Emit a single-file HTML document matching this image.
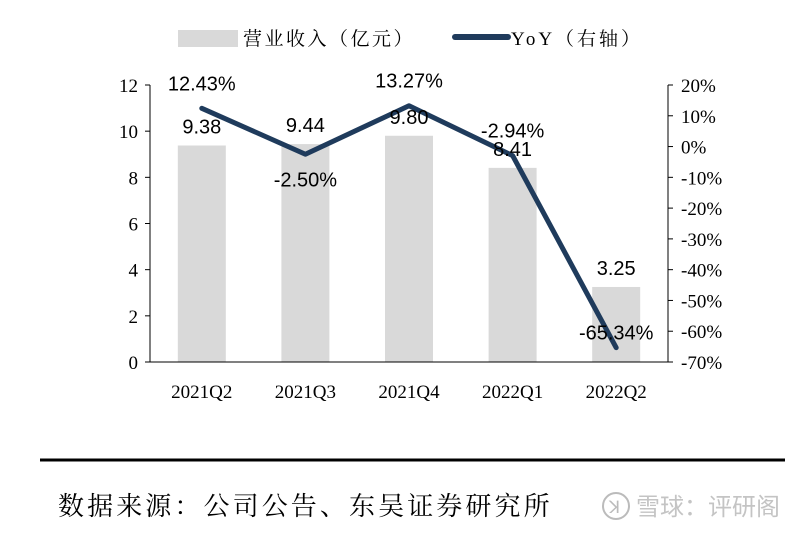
<!DOCTYPE html>
<html><head><meta charset="utf-8"><style>
html,body{margin:0;padding:0;background:#fff;width:800px;height:533px;overflow:hidden}
svg{display:block}
</style></head><body>
<svg id="chart" width="800" height="533" xmlns="http://www.w3.org/2000/svg">
<g>
<rect x="178" y="30" width="60" height="17" fill="#d9d9d9"/>
<text x="243" y="45" font-family="'Liberation Serif','Noto Serif CJK SC',serif" font-size="19" letter-spacing="2.5" fill="#000">营业收入（亿元）</text>
<line x1="455" y1="37" x2="508" y2="37" stroke="#1f3b5c" stroke-width="6" stroke-linecap="round"/>
<text x="511" y="45" font-family="'Liberation Serif','Noto Serif CJK SC',serif" font-size="19" letter-spacing="3" fill="#000">YoY（右轴）</text>
</g>
<g id="plot"></g>
<line x1="40" y1="460" x2="785" y2="460" stroke="#000" stroke-width="3"/>
<text x="58" y="515" font-family="'Liberation Serif','Noto Serif CJK SC',serif" font-size="26" letter-spacing="3.1" fill="#000">数据来源：公司公告、东吴证券研究所</text>
<g>
<circle cx="616" cy="506" r="13" fill="none" stroke="#bbb" stroke-width="2"/>
<text x="609" y="513" font-family="'Liberation Sans',sans-serif" font-size="17" fill="#bbb">ꓘ</text>
<text x="636" y="515" font-family="'Liberation Sans','Noto Sans CJK SC',sans-serif" font-size="24" fill="#c4c4c4">雪球：评研阁</text>
</g>
</svg>
<script>
const categories=["2021Q2","2021Q3","2021Q4","2022Q1","2022Q2"];
const revenue=[9.38,9.44,9.80,8.41,3.25];
const yoy=[12.43,-2.50,13.27,-2.94,-65.34];
const leftTicks=[0,2,4,6,8,10,12];
const rightTicks=[20,10,0,-10,-20,-30,-40,-50,-60,-70];
const NS="http://www.w3.org/2000/svg";
const g=document.getElementById('plot');
const X0=150,X1=668,Y0=362,Y1=85;
const yL=v=>Y0-(v/12)*(Y0-Y1);
const yR=v=>Y0-((v+70)/90)*(Y0-Y1);
const xC=i=>X0+(X1-X0)*(i+0.5)/categories.length;
function el(t,a,txt){const e=document.createElementNS(NS,t);for(const k in a)e.setAttribute(k,a[k]);if(txt!==undefined)e.textContent=txt;g.appendChild(e);return e;}
const ff="'Liberation Serif',serif",fs="'Liberation Sans',sans-serif";
revenue.forEach((v,i)=>{const b=el('rect',{x:xC(i)-24,y:yL(v),width:48,height:Y0-yL(v),fill:'#d9d9d9'});

});
let ax=el('line',{x1:X0,y1:Y1,x2:X0,y2:Y0,stroke:'#000','stroke-width':1});


ax=el('line',{x1:X1,y1:Y1,x2:X1,y2:Y0,stroke:'#000','stroke-width':1});


ax=el('line',{x1:X0,y1:Y0,x2:X1,y2:Y0,stroke:'#000','stroke-width':1});


leftTicks.forEach(v=>{el('line',{x1:X0-5,y1:yL(v),x2:X0,y2:yL(v),stroke:'#000'});
const t=el('text',{x:X0-12,y:yL(v)+7,'text-anchor':'end','font-family':ff,'font-size':19},v);

});
rightTicks.forEach(v=>{el('line',{x1:X1,y1:yR(v),x2:X1+5,y2:yR(v),stroke:'#000'});
const t=el('text',{x:X1+13,y:yR(v)+7,'font-family':ff,'font-size':19},v+'%');

});
categories.forEach((c,i)=>{const t=el('text',{x:xC(i),y:Y0+36,'text-anchor':'middle','font-family':ff,'font-size':19},c);

});
const line=el('polyline',{points:yoy.map((v,i)=>xC(i)+','+yR(v)).join(' '),fill:'none',stroke:'#1f3b5c','stroke-width':5,'stroke-linejoin':'round','stroke-linecap':'round'});


revenue.forEach((v,i)=>{const t=el('text',{x:xC(i),y:yL(v)-12,'text-anchor':'middle','font-family':fs,'font-size':20},v.toFixed(2));

});
const off=[-25,25,-25,-25,-15];
yoy.forEach((v,i)=>{const t=el('text',{x:xC(i),y:yR(v)+off[i]+7,'text-anchor':'middle','font-family':fs,'font-size':20},v.toFixed(2)+'%');

});
</script>
</body></html>
